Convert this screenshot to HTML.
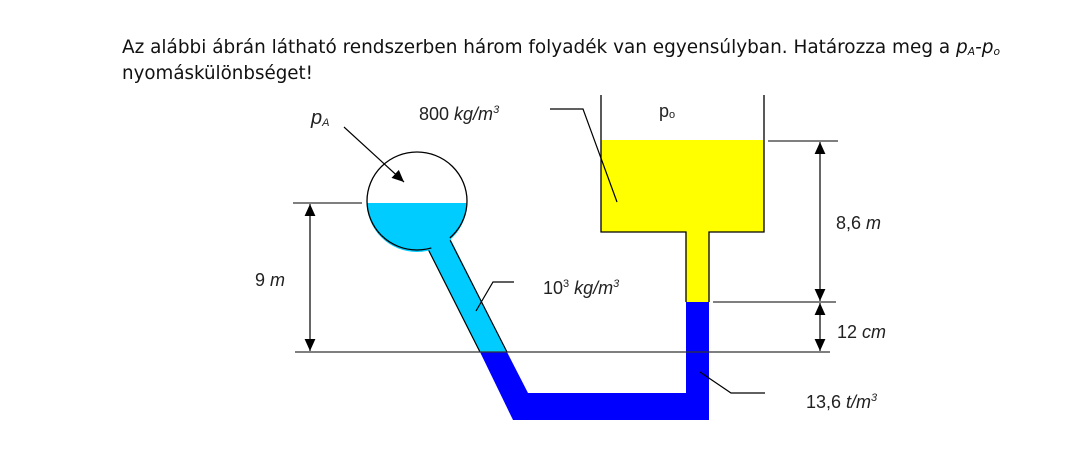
<!DOCTYPE html>
<html><head><meta charset="utf-8"><style>
html,body{margin:0;padding:0;background:#fff;}
svg{display:block;}
text{font-family:"Liberation Sans",sans-serif;fill:#222;}
</style></head><body>
<svg width="1080" height="460" viewBox="0 0 1080 460" xmlns="http://www.w3.org/2000/svg">
<defs>
<marker id="ah" viewBox="0 0 10 10" refX="10" refY="5" markerWidth="12" markerHeight="12" orient="auto-start-reverse" markerUnits="userSpaceOnUse"><path d="M0,0.5 L10,5 L0,9.5 z" fill="#000"/></marker>
</defs>
<text x="122" y="53" font-size="19" textLength="878" lengthAdjust="spacingAndGlyphs" style="font-family:'DejaVu Sans Condensed','Liberation Sans',sans-serif;fill:#111">Az alábbi ábrán látható rendszerben három folyadék van egyensúlyban. Határozza meg a <tspan font-style="italic">p<tspan font-size="11" dy="2">A</tspan><tspan dy="-2">-p</tspan><tspan font-size="11" dy="2">o</tspan></tspan></text>
<text x="122" y="79" font-size="19" textLength="191" lengthAdjust="spacingAndGlyphs" style="font-family:'DejaVu Sans Condensed','Liberation Sans',sans-serif;fill:#111">nyomáskülönbséget!</text>

<rect x="601" y="140" width="163" height="92" fill="#ffff00"/>
<rect x="686" y="230" width="23" height="73" fill="#ffff00"/>
<path d="M601,95 V232 H686 V302 M709,302 V232 H764 V95" fill="none" stroke="#000" stroke-width="1.3"/>
<path d="M480,352 L507,352 L528,393 L686,393 L686,302 L709,302 L709,420 L513,420 Z" fill="#0000ff"/>
<path d="M428,248 L450,238 L507,352 L480,352 Z" fill="#00ccff"/>
<path d="M428,249 L480,352 M450,240 L507,352" stroke="#000" stroke-width="1.2" fill="none"/>
<path d="M367,203 A50,49 0 0 0 467,203 Z" fill="#00ccff"/>
<ellipse cx="417" cy="201" rx="50" ry="49" fill="none" stroke="#000" stroke-width="1.3"/>
<path d="M432,249 L450,238" stroke="#00ccff" stroke-width="4"/>

<g stroke="#333" stroke-width="1.3" fill="none">
<line x1="293" y1="203" x2="362" y2="203"/>
<line x1="295" y1="352" x2="830" y2="352"/>
<line x1="768" y1="141" x2="838" y2="141"/>
<line x1="713" y1="302" x2="836" y2="302"/>
</g>
<g stroke="#000" stroke-width="1.2">
<line x1="310" y1="204" x2="310" y2="351" marker-start="url(#ah)" marker-end="url(#ah)"/>
<line x1="820" y1="142" x2="820" y2="301" marker-start="url(#ah)" marker-end="url(#ah)"/>
<line x1="820" y1="303" x2="820" y2="351" marker-start="url(#ah)" marker-end="url(#ah)"/>
<line x1="344" y1="127" x2="404" y2="182" marker-end="url(#ah)"/>
</g>
<g stroke="#000" stroke-width="1.2" fill="none">
<path d="M550,109 H583 L617,202"/>
<path d="M514,282 H493 L476,311"/>
<path d="M700,372 L731,393 H765"/>
</g>

<text x="311" y="124" font-size="20" font-style="italic">p<tspan font-size="11" dy="2">A</tspan></text>
<text x="419" y="120" font-size="18">800 <tspan font-style="italic">kg/m<tspan font-size="11" dy="-7">3</tspan></tspan></text>
<text x="659" y="117" font-size="18">p<tspan font-size="11" dy="1">o</tspan></text>
<text x="255" y="286" font-size="18">9 <tspan font-style="italic">m</tspan></text>
<text x="543" y="294" font-size="18">10<tspan font-size="11" dy="-7">3</tspan><tspan dy="7" font-style="italic"> kg/m</tspan><tspan font-size="11" dy="-7" font-style="italic">3</tspan></text>
<text x="836" y="229" font-size="18">8,6 <tspan font-style="italic">m</tspan></text>
<text x="837" y="338" font-size="18">12 <tspan font-style="italic">cm</tspan></text>
<text x="806" y="408" font-size="18">13,6 <tspan font-style="italic">t/m<tspan font-size="11" dy="-7">3</tspan></tspan></text>
</svg>
</body></html>
